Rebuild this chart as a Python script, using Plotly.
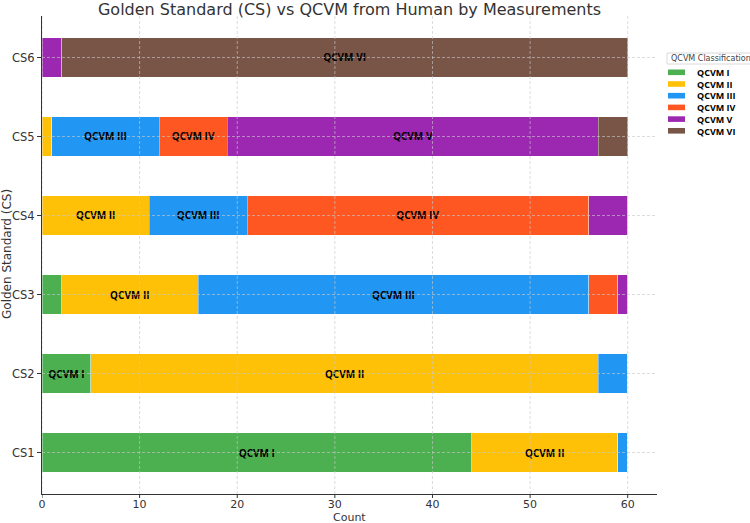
import plotly.graph_objects as go

# ---- data ----
categories = ["CS1", "CS2", "CS3", "CS4", "CS5", "CS6"]
series_names = ["QCVM I", "QCVM II", "QCVM III", "QCVM IV", "QCVM V", "QCVM VI"]
qcvm_i   = [44, 5, 2, 0, 0, 0]
qcvm_ii  = [15, 52, 14, 11, 1, 0]
qcvm_iii = [1, 3, 40, 10, 11, 0]
qcvm_iv  = [0, 0, 3, 35, 7, 0]
qcvm_v   = [0, 0, 1, 4, 38, 2]
qcvm_vi  = [0, 0, 0, 0, 3, 58]
x_ticks = [0, 10, 20, 30, 40, 50, 60]

series_values = [qcvm_i, qcvm_ii, qcvm_iii, qcvm_iv, qcvm_v, qcvm_vi]
colors = ["#4CAF50", "#FFC107", "#2196F3", "#FF5722", "#9C27B0", "#795548"]

W, H = 750, 523
L, R, T, B = 42, 657, 16, 494  # plot area in pixels

fig = go.Figure()
for name, vals, col in zip(series_names, series_values, colors):
    fig.add_trace(go.Bar(
        y=categories, x=vals, name=name, orientation="h",
        marker=dict(color=col, line=dict(color="rgba(255,255,255,0.6)", width=0.6)),
        width=0.5,
        text=[name if v >= 5 else "" for v in vals],
        textposition="inside", insidetextanchor="middle", textangle=0,
        constraintext="none",
        textfont=dict(family="Open Sans", size=10, color="black", weight="bold"),
        showlegend=False, hoverinfo="x+name",
    ))

def px_x(p):
    return (p - L) / (R - L)

def px_y(p):
    return (B - p) / (B - T)

# grid lines drawn above bars (like matplotlib default)
grid_style = dict(color="rgba(200,200,200,0.8)", width=0.8, dash="3px,2px")
shapes = []
for xv in x_ticks:
    shapes.append(dict(type="line", xref="x", yref="paper", x0=xv, x1=xv, y0=0, y1=1,
                       line=grid_style, layer="above"))
    # outside tick mark
    shapes.append(dict(type="line", xref="x", yref="paper", x0=xv, x1=xv, y0=0, y1=px_y(B + 4),
                       line=dict(color="#333", width=1), layer="above"))
for c in categories:
    shapes.append(dict(type="line", xref="paper", yref="y", x0=0, x1=1, y0=c, y1=c,
                       line=grid_style, layer="above"))

annotations = []
# axis titles
annotations.append(dict(text="Count", xref="paper", yref="paper",
                        x=0.5, y=px_y(517), xanchor="center", yanchor="middle", borderpad=0,
                        showarrow=False, font=dict(family="DejaVu Sans", size=11, color="#333")))
annotations.append(dict(text="Golden Standard (CS)", xref="paper", yref="paper",
                        x=px_x(7), y=px_y(254), xanchor="center", yanchor="middle", textangle=-90,
                        showarrow=False, font=dict(family="DejaVu Sans", size=12, color="#333")))
# custom legend
shapes.append(dict(type="rect", xref="paper", yref="paper",
                   x0=px_x(667), x1=px_x(752), y0=px_y(64), y1=px_y(53),
                   line=dict(color="#d0d0d0", width=0.8), fillcolor="white", layer="above"))
annotations.append(dict(text="QCVM Classification", xref="paper", yref="paper",
                        x=px_x(669), y=px_y(58.5), xanchor="left", yanchor="middle",
                        showarrow=False, font=dict(family="DejaVu Sans", size=8, color="#444")))
y_first = 72.3
step = 11.7
for i, col in enumerate(colors):
    yc = y_first + i * step
    shapes.append(dict(type="rect", xref="paper", yref="paper",
                       x0=px_x(668), x1=px_x(685), y0=px_y(yc + 2.8), y1=px_y(yc - 2.8),
                       line=dict(width=0), fillcolor=col, layer="above"))
annotations.append(dict(text="<br>".join(series_names), xref="paper", yref="paper",
                        x=px_x(695), y=px_y(y_first + 2.5 * step), xanchor="left", yanchor="middle",
                        align="left", showarrow=False,
                        font=dict(family="Open Sans", size=9, color="black", weight="bold")))

fig.update_layout(
    width=W, height=H,
    margin=dict(l=L, r=W - R, t=T, b=H - B, pad=0, autoexpand=False),
    paper_bgcolor="white", plot_bgcolor="white",
    barmode="stack", bargap=0.5,
    title=dict(text="Golden Standard (CS) vs QCVM from Human by Measurements",
               x=(L + R) / 2 / W, xanchor="center", y=1 - 9 / H, yanchor="middle",
               font=dict(family="DejaVu Sans", size=16, color="#333")),
    xaxis=dict(range=[0, 63], tickvals=x_ticks, showgrid=False, zeroline=False,
               showline=True, linecolor="#333", linewidth=1, automargin=False,
               ticks="",
               tickfont=dict(family="DejaVu Sans", size=11, color="#333")),
    yaxis=dict(categoryorder="array", categoryarray=categories,
               range=[-0.525, 5.525], showgrid=False, zeroline=False,
               showline=True, linecolor="#333", linewidth=1, automargin=False,
               ticks="outside", ticklen=4, tickcolor="#333",
               tickfont=dict(family="DejaVu Sans", size=11.5, color="#333")),
    shapes=shapes, annotations=annotations,
    showlegend=False,
)

fig.write_html("out.html")
